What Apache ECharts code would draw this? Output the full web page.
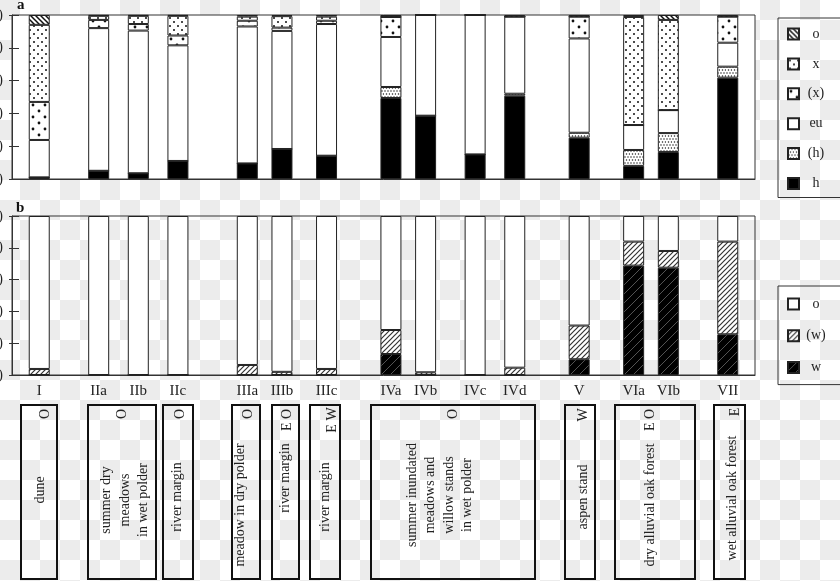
<!DOCTYPE html>
<html>
<head>
<meta charset="utf-8">
<script src="https://cdn.jsdelivr.net/npm/echarts@6/dist/echarts.min.js"></script>
<style>
  html, body {
    margin: 0;
    padding: 0;
    background: repeating-conic-gradient(#fff 0 25%, #ececec 0 50%) 0 0 / 40px 40px;
  }
  #main {
    width: 840px;
    height: 581px;
  }
</style>
</head>
<body>
<div id="main"></div>
<script>
// sites along the x axis, and how many empty slots sit before each one
const sites = ['I', 'IIa', 'IIb', 'IIc', 'IIIa', 'IIIb', 'IIIc', 'IVa', 'IVb', 'IVc', 'IVd', 'V', 'VIa', 'VIb', 'VII'];
const gapBefore = [5, 11, 7, 7, 13, 6, 8, 12, 6, 9, 7, 12, 10, 6, 11];
const gapAfter = 5;

// panel a, percent of species per group (bottom -> top)
const hA    = [1,    5,   3.5, 11,   9.5, 18.3, 14.2, 49.4, 38.6, 15, 50.8, 25.2, 8,    16.5, 61.8];
const hParA = [0,    0,   0,   0,    0,   0,    0,    6.7,  0,    0,  1.2,  3,    9.7,  11.5, 6.7];
const euA   = [22.8, 87,  87,  70.5, 83.5, 72,  80.3, 30.5, 61.4, 85, 47,   57.5, 15.2, 14,   14.6];
const xParA = [23.2, 5,   4,   6,    3.5, 2,    2,    12.2, 0,    0,  0,    13.3, 0,    0,    15.9];
const xA    = [47,   2.5, 5,   12,   2.5, 7,    2.5,  0,    0,    0,  0,    0,    65.9, 55,   0];
const oA    = [6,    0.5, 0.5, 0.5,  1,   0.7,  1,    1.2,  0,    0,  1,    1,    1.2,  3,    1];

// panel b (bottom -> top)
const wB    = [0,   0,   0,   0,   0,   0,  0,   13.2, 0,   0,   0,   9.9,  68.8, 67.5, 25.6];
const wParB = [3.8, 0,   0,   0,   6.3, 2,  3.8, 15.1, 1.7, 0,   4.6, 21.2, 15.1, 10.5, 58.3];
const oB    = [96.2, 100, 100, 100, 93.7, 98, 96.2, 71.7, 98.3, 100, 95.4, 68.9, 16.1, 22, 16.1];

const serif = '"Liberation Serif", "DejaVu Serif", serif';

function spread(values, filler) {
  const out = [];
  values.forEach((v, i) => {
    for (let k = 0; k < gapBefore[i]; k++) out.push(filler);
    out.push(v);
  });
  for (let k = 0; k < gapAfter; k++) out.push(filler);
  return out;
}

function pattern(size, bg, draw) {
  const c = document.createElement('canvas');
  c.width = size;
  c.height = size;
  const ctx = c.getContext('2d');
  ctx.fillStyle = bg;
  ctx.fillRect(0, 0, size, size);
  draw(ctx, size);
  return { image: c, repeat: 'repeat' };
}
function dots(pts, r, col) {
  return (ctx) => {
    ctx.fillStyle = col;
    pts.forEach(p => { ctx.beginPath(); ctx.arc(p[0], p[1], r, 0, Math.PI * 2); ctx.fill(); });
  };
}
function hatch(dir, col, lw) {
  return (ctx, s) => {
    ctx.strokeStyle = col;
    ctx.lineWidth = lw;
    ctx.beginPath();
    for (let o = -s; o <= s; o += s) {
      if (dir > 0) { ctx.moveTo(o - 1, s + 1); ctx.lineTo(o + s + 1, -1); }
      else { ctx.moveTo(o - 1, -1); ctx.lineTo(o + s + 1, s + 1); }
    }
    ctx.stroke();
  };
}

const pat = {
  o: pattern(5, '#fff', hatch(-1, '#111', 1.5)),
  x: pattern(8, '#fff', dots([[2, 2], [6, 6]], 1, '#111')),
  xPar: pattern(12, '#fff', dots([[3, 3], [9, 9]], 1.4, '#111')),
  hPar: pattern(6, '#fff', dots([[1, 1], [4, 1], [2.5, 4], [5.5, 4]], 0.75, '#222')),
  wPar: pattern(5, '#fff', hatch(1, '#333', 1.2)),
  w: pattern(9, '#000', hatch(1, '#777', 0.7))
};

const cats = spread(sites, '');

function barSeries(name, data, fill, xi, yi, stack) {
  return {
    name: name,
    type: 'bar',
    stack: stack,
    xAxisIndex: xi,
    yAxisIndex: yi,
    barWidth: 21,
    data: spread(data, '-'),
    itemStyle: { color: fill, borderColor: '#222', borderWidth: 1 },
    emphasis: { disabled: true }
  };
}

function yAxes(grid) {
  return [{
    type: 'value', gridIndex: grid, position: 'left', min: 0, max: 100, interval: 20,
    axisLine: { show: true, lineStyle: { color: '#333' } },
    axisTick: { show: true, length: 3, lineStyle: { color: '#333' } },
    axisLabel: { margin: 9, fontFamily: serif, fontSize: 14, color: '#222', formatter: v => '(' + v + ')' },
    splitLine: { show: false }
  }, {
    type: 'value', gridIndex: grid, position: 'left', min: 0, max: 100, interval: 20,
    axisLine: { show: false },
    axisTick: { show: true, inside: true, length: 7, lineStyle: { color: '#333' } },
    axisLabel: { show: false },
    splitLine: { show: false }
  }];
}

// boxes under the axis
const boxes = [[21, 36], [88, 68], [163, 30], [232, 28], [272, 27], [310, 30], [371, 164], [565, 30], [615, 80], [714, 31]];
const boxTexts = [
  ['dune', 40, 490], ['summer dry\nmeadows\nin wet polder', 125, 500], ['river margin', 177, 497],
  ['meadow in dry polder', 240, 505], ['river margin', 285, 478], ['river margin', 325, 497],
  ['summer inundated\nmeadows and\nwillow stands\nin wet polder', 440, 495], ['aspen stand', 583, 497],
  ['dry alluvial oak forest', 650, 505], ['wet alluvial oak forest', 732, 498]
];
const marks = [
  ['O', 45, 414], ['O', 122, 414], ['O', 180, 414], ['O', 248, 414], ['E O', 287, 420], ['E W', 332, 420],
  ['O', 453, 414], ['W', 583, 415], ['E O', 650, 420], ['E', 735, 412]
];

const graphic = [];
boxes.forEach(b => graphic.push({
  type: 'rect', shape: { x: b[0], y: 405, width: b[1], height: 174 },
  style: { fill: 'none', stroke: '#111', lineWidth: 2 }
}));
boxTexts.concat(marks).forEach(t => graphic.push({
  type: 'text', x: t[1], y: t[2], rotation: Math.PI / 2,
  style: { text: t[0], font: '14px ' + serif, fill: '#222', align: 'center', verticalAlign: 'middle', lineHeight: 18.5 }
}));
graphic.push({ type: 'text', x: 17, y: 5, style: { text: 'a', font: 'bold 15px ' + serif, fill: '#111', align: 'left', verticalAlign: 'middle' } });
graphic.push({ type: 'text', x: 16, y: 208, style: { text: 'b', font: 'bold 15px ' + serif, fill: '#111', align: 'left', verticalAlign: 'middle' } });

const legendBase = {
  orient: 'vertical',
  left: 778,
  icon: 'rect',
  itemWidth: 11,
  itemHeight: 11,
  borderColor: '#333',
  borderWidth: 1,
  selectedMode: false,
  formatter: n => '{c|' + n.slice(2) + '}',
  textStyle: { rich: { c: { width: 24, align: 'center', fontFamily: serif, fontSize: 14, color: '#222' } } }
};

const chart = echarts.init(document.getElementById('main'));
chart.setOption({
  backgroundColor: 'transparent',
  animation: false,
  grid: [
    { left: 12, right: 85, top: 15, height: 164, outerBoundsMode: 'none', containLabel: false, show: true, backgroundColor: '#fff', borderColor: '#333', borderWidth: 1 },
    { left: 12, right: 85, top: 216, height: 159, outerBoundsMode: 'none', containLabel: false, show: true, backgroundColor: 'transparent', borderColor: '#333', borderWidth: 1 }
  ],
  xAxis: [
    { type: 'category', gridIndex: 0, data: cats, axisTick: { show: false }, axisLabel: { show: false }, axisLine: { lineStyle: { color: '#333' } } },
    { type: 'category', gridIndex: 1, data: cats, axisTick: { show: false },
      axisLabel: { interval: 0, margin: 9, fontFamily: serif, fontSize: 15, color: '#222' },
      axisLine: { lineStyle: { color: '#333' } } }
  ],
  yAxis: yAxes(0).concat(yAxes(1)),
  legend: [
    Object.assign({}, legendBase, { top: 18, padding: [9, 30, 7, 9], itemGap: 15.9, data: ['a:o', 'a:x', 'a:(x)', 'a:eu', 'a:(h)', 'a:h'] }),
    Object.assign({}, legendBase, { top: 286, padding: [11, 30, 10, 9], itemGap: 17.8, data: ['b:o', 'b:(w)', 'b:w'] })
  ],
  graphic: graphic,
  series: [
    barSeries('a:h', hA, '#000', 0, 0, 'a'),
    barSeries('a:(h)', hParA, pat.hPar, 0, 0, 'a'),
    barSeries('a:eu', euA, '#fff', 0, 0, 'a'),
    barSeries('a:(x)', xParA, pat.xPar, 0, 0, 'a'),
    barSeries('a:x', xA, pat.x, 0, 0, 'a'),
    barSeries('a:o', oA, pat.o, 0, 0, 'a'),
    barSeries('b:w', wB, pat.w, 1, 2, 'b'),
    barSeries('b:(w)', wParB, pat.wPar, 1, 2, 'b'),
    barSeries('b:o', oB, '#fff', 1, 2, 'b')
  ]
});
</script>
</body>
</html>
